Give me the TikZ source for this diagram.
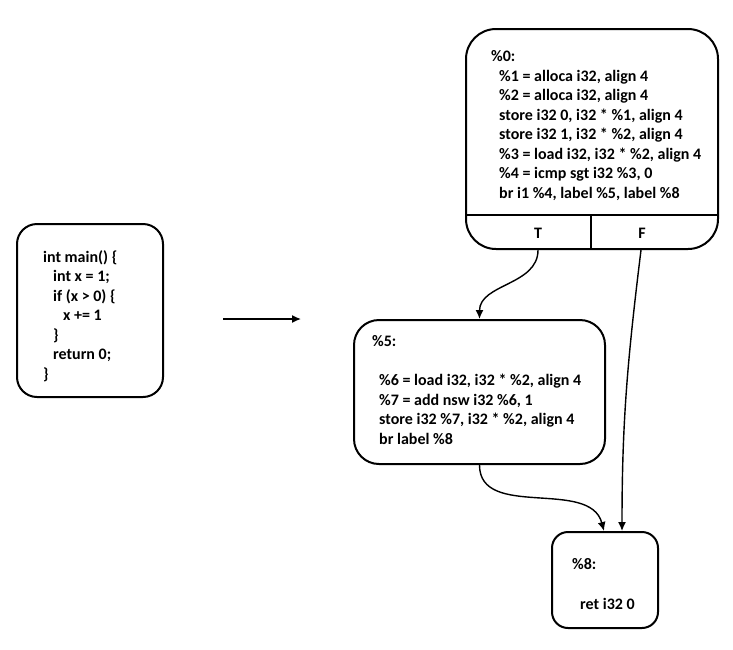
\documentclass[tikz,border=0pt]{standalone}
\usepackage{fontspec}
\setmainfont{Carlito}
\usetikzlibrary{arrows.meta}
\tikzset{
  blk/.style={draw, line width=2pt, rounded corners=#1, inner sep=0pt},
  txt/.style={anchor=north west, inner sep=0pt, align=left, font=\fontsize{16}{19.5}\selectfont\bfseries},
  lbl/.style={inner sep=0pt, font=\fontsize{16}{19.5}\selectfont\bfseries},
  conn/.style={line width=1.4pt, -{Latex[length=9pt,width=8pt]}}
}
\begin{document}
\begin{tikzpicture}[x=1pt,y=-1pt]
\useasboundingbox (0,0) rectangle (733,649);
% blocks
\node[blk=30pt, minimum width=252pt, minimum height=220pt] (n0) at (592,139) {};
\node[blk=20pt, minimum width=146pt, minimum height=173pt] (code) at (90,310.5) {};
\node[blk=25pt, minimum width=251pt, minimum height=144pt] (n5) at (479.5,392) {};
\node[blk=16pt, minimum width=106pt, minimum height=96pt] (n8) at (605,580) {};
% dividers in %0
\draw[line width=1.4pt] (n0.west |- 0,215) -- (n0.east |- 0,215);
\draw[line width=1.4pt] (591,215) -- (591,249);
\node[lbl] (tl) at (538,233) {T};
\node[lbl] (fl) at (642,233) {F};
% texts
\node[txt] (t0) at (491,50.5) {\%0:\\
\hspace*{8pt}\%1 = alloca i32, align 4\\
\hspace*{8pt}\%2 = alloca i32, align 4\\
\hspace*{8pt}store i32 0, i32 * \%1, align 4\\
\hspace*{8pt}store i32 1, i32 * \%2, align 4\\
\hspace*{8pt}\%3 = load i32, i32 * \%2, align 4\\
\hspace*{8pt}\%4 = icmp sgt i32 \%3, 0\\
\hspace*{8pt}br i1 \%4, label \%5, label \%8};
\node[txt] (tc) at (43,250) {int main() \{\\
\hspace*{10pt}int x = 1;\\
\hspace*{10pt}if (x > 0) \{\\
\hspace*{20pt}x += 1\\
\hspace*{10pt}\}\\
\hspace*{10pt}return 0;\\
\}};
\node[txt] (t5) at (372,335) {\%5:\\[20pt]
\hspace*{7pt}\%6 = load i32, i32 * \%2, align 4\\
\hspace*{7pt}\%7 = add nsw i32 \%6, 1\\
\hspace*{7pt}store i32 \%7, i32 * \%2, align 4\\
\hspace*{7pt}br label \%8};
\node[txt] (t8) at (572,558) {\%8:\\[21pt]
\hspace*{8pt}ret i32 0};
% connectors
\coordinate (a1) at (223,319);
\coordinate (a2) at (301,319);
\draw[conn] (a1) -- (a2);
\draw[conn] (tl |- n0.south) to[out=-90,in=90] (n5.north);
\draw[conn] ([xshift=-1pt]fl |- n0.south) to[out=-97,in=90] ([xshift=17pt]n8.north);
\draw[conn] (n5.south) to[out=-90,in=105] ([xshift=-1pt]n8.north);
\end{tikzpicture}
\end{document}
